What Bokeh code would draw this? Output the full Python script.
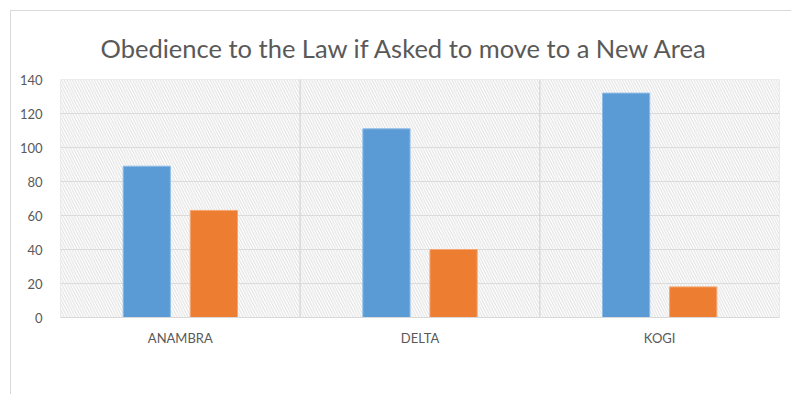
from bokeh.plotting import figure
from bokeh.models import ColumnDataSource, Legend, LegendItem, Range1d, FactorRange, FixedTicker
from bokeh.transform import dodge
from bokeh.embed import file_html
from bokeh.resources import INLINE

categories = ["ANAMBRA", "DELTA", "KOGI"]
yes_values = [89, 111, 132]
no_values = [63, 40, 18]
y_ticks = [0, 20, 40, 60, 80, 100, 120, 140]
title_text = "Obedience to the Law if Asked to move to a New Area"

src = ColumnDataSource(dict(cat=categories, yes=yes_values, no=no_values,
                            top=[max(y_ticks)] * len(categories)))

p = figure(frame_width=719, frame_height=238, x_range=FactorRange(*categories),
           y_range=Range1d(0, max(y_ticks)), output_backend="svg",
           toolbar_location=None, min_border_left=49, min_border_right=12,
           min_border_top=68, min_border_bottom=0)
p.styles = {"margin-left": "10px", "margin-top": "10px",
            "border-left": "1px solid #d9d9d9", "border-top": "1px solid #d9d9d9"}

p.title.text = title_text
p.title.align = "left"
p.title.offset = 40
p.title.text_font = "Lato"
p.title.text_font_size = "25.5px"
p.title.text_font_style = "normal"
p.title.text_color = "#595959"
p.title.standoff = 34

p.outline_line_color = None
p.background_fill_color = "white"
p.border_fill_color = "white"

# hatched background with category separators
p.vbar(x="cat", top="top", bottom=0, width=1.0, source=src, fill_alpha=0,
       hatch_pattern="left_diagonal_line", hatch_color="#dedede", hatch_scale=5.5,
       hatch_weight=1, line_color="#d9d9d9", line_width=1)

r_yes = p.vbar(x=dodge("cat", -0.14, range=p.x_range), top="yes", width=0.197,
               source=src, fill_color="#5B9BD5", line_color="#8fbce6", line_width=1)
r_no = p.vbar(x=dodge("cat", 0.14, range=p.x_range), top="no", width=0.197,
              source=src, fill_color="#ED7D31", line_color="#f4a572", line_width=1)

p.xgrid.grid_line_color = None
p.ygrid.grid_line_color = "#d9d9d9"
p.ygrid.ticker = FixedTicker(ticks=y_ticks)

p.yaxis.ticker = FixedTicker(ticks=y_ticks)
p.yaxis.axis_line_color = None
p.yaxis.major_tick_line_color = None
p.yaxis.minor_tick_line_color = None
p.yaxis.major_label_text_font = "Lato"
p.yaxis.major_label_text_font_size = "13px"
p.yaxis.major_label_text_color = "#595959"
p.yaxis.major_label_standoff = 12

p.xaxis.axis_line_color = "#d9d9d9"
p.xaxis.major_tick_line_color = None
p.xaxis.minor_tick_line_color = None
p.xaxis.major_label_text_font = "Lato"
p.xaxis.major_label_text_font_size = "13px"
p.xaxis.major_label_text_color = "#595959"
p.xaxis.major_label_standoff = 6

legend = Legend(items=[LegendItem(label="Yes", renderers=[r_yes]),
                       LegendItem(label="No", renderers=[r_no])],
                orientation="horizontal", location="center",
                label_text_font="Lato", label_text_font_size="14px",
                label_text_color="#595959", glyph_width=7, glyph_height=7,
                label_height=14, label_standoff=4, spacing=12,
                border_line_color=None, background_fill_alpha=0,
                padding=0, margin=6)
p.add_layout(legend, "below")

open("out.html", "w").write(file_html(p, INLINE))
